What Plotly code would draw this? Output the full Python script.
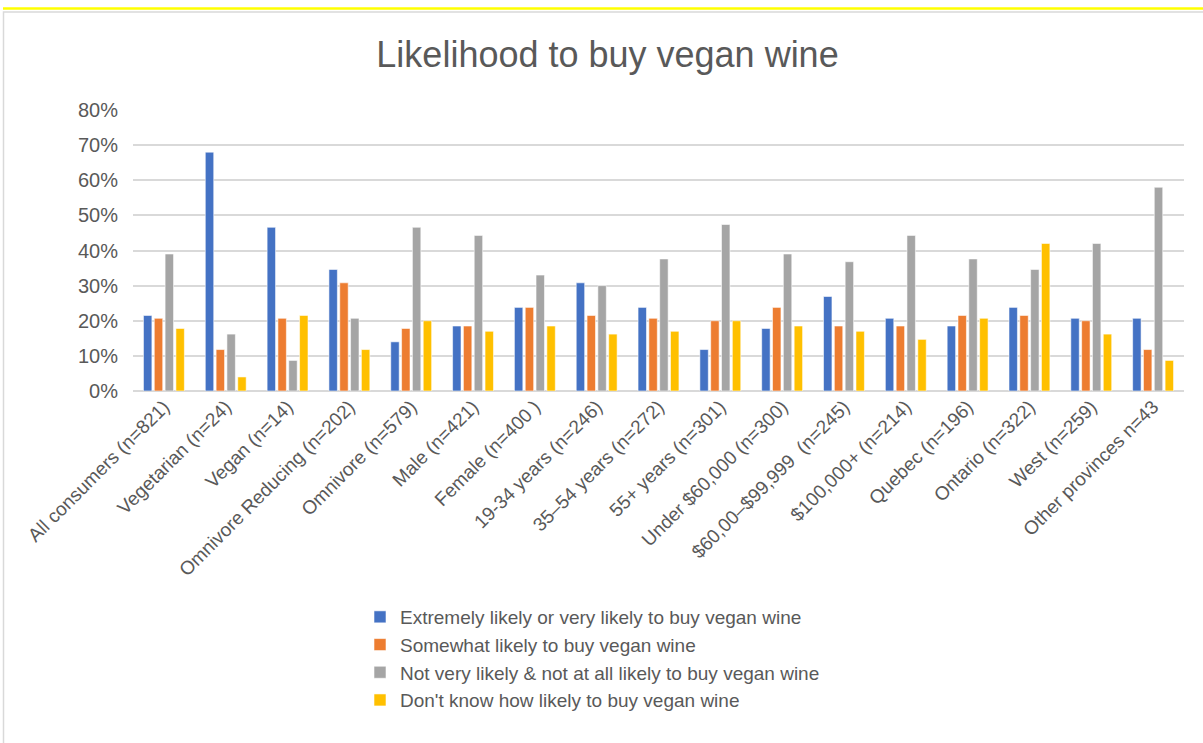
import plotly.graph_objects as go

categories = [
    "All consumers (n=821)", "Vegetarian (n=24)", "Vegan (n=14)",
    "Omnivore Reducing (n=202)", "Omnivore (n=579)", "Male (n=421)",
    "Female (n=400 )", "19-34 years (n=246)", "35–54 years (n=272)",
    "55+ years (n=301)", "Under $60,000 (n=300)", "$60,00–$99,999  (n=245)",
    "$100,000+ (n=214)", "Quebec (n=196)", "Ontario (n=322)",
    "West (n=259)", "Other provinces n=43",
]

series_names = [
    "Extremely likely or very likely to buy vegan wine",
    "Somewhat likely to buy vegan wine",
    "Not very likely & not at all likely to buy vegan wine",
    "Don't know how likely to buy vegan wine",
]

extremely = [21.5, 68.0, 46.6, 34.6, 14.0, 18.5, 23.8, 30.8, 23.8, 11.8, 17.8, 26.9, 20.7, 18.5, 23.8, 20.7, 20.7]
somewhat = [20.7, 11.8, 20.7, 30.8, 17.8, 18.5, 23.8, 21.5, 20.7, 20.0, 23.8, 18.5, 18.5, 21.5, 21.5, 20.0, 11.8]
not_likely = [39.0, 16.2, 8.7, 20.7, 46.6, 44.3, 33.0, 30.0, 37.6, 47.4, 39.0, 36.8, 44.3, 37.6, 34.6, 42.0, 58.0]
dont_know = [17.8, 4.0, 21.5, 11.8, 20.0, 17.0, 18.5, 16.2, 17.0, 20.0, 18.5, 17.0, 14.7, 20.7, 42.0, 16.2, 8.7]

colors = ["#4472C4", "#ED7D31", "#A5A5A5", "#FFC000"]
all_series = [extremely, somewhat, not_likely, dont_know]

fig = go.Figure()
for name, vals, col in zip(series_names, all_series, colors):
    fig.add_trace(go.Bar(
        x=categories, y=[v / 100 for v in vals], name=name,
        marker=dict(color=col, line=dict(color="rgba(255,255,255,0.7)", width=0.8)),
    ))

W, H = 1203, 743
L, R, T, B = 133, 19, 110, 352
pw, ph = W - L - R, H - T - B

def px(x):
    return (x - L) / pw

def py(y):
    return (H - B - y) / ph

fig.update_layout(
    width=W, height=H,
    margin=dict(l=L, r=R, t=T, b=B, autoexpand=False),
    paper_bgcolor="white", plot_bgcolor="white",
    barmode="group", bargap=0.3, bargroupgap=0.22,
    font=dict(family="Liberation Sans, Arial, sans-serif", color="#595959"),
    title=dict(text="Likelihood to buy vegan wine", x=0.505, xanchor="center",
               y=1 - 54 / H, yanchor="middle",
               font=dict(size=36, color="#595959")),
    yaxis=dict(range=[0, 0.8], dtick=0.1, tickformat=".0%", showgrid=True,
               gridcolor="#D9D9D9", gridwidth=2, zeroline=True,
               zerolinecolor="#D9D9D9", zerolinewidth=2,
               tickfont=dict(size=20, color="#595959"), ticks="", ticklen=0,
               ticklabelstandoff=14, showline=False),
    xaxis=dict(tickangle=-45, tickfont=dict(size=19, color="#595959"),
               showline=False, ticks=""),
    legend=dict(orientation="v", x=px(360), y=py(598), xanchor="left", yanchor="top",
                font=dict(size=19, color="#595959"),
                itemwidth=30, bgcolor="rgba(0,0,0,0)"),
    showlegend=True,
    shapes=[
        dict(type="line", xref="paper", yref="paper", x0=px(3), x1=px(1203),
             y0=py(8.5), y1=py(8.5), line=dict(color="#FFFF00", width=2.5)),
        dict(type="rect", xref="paper", yref="paper", x0=px(3.5), x1=px(1210),
             y0=py(12), y1=py(760), line=dict(color="#D9D9D9", width=1.5)),
    ],
)

fig.write_html("out.html", post_script="document.body.style.margin='0px';",
               config={"displayModeBar": False})
